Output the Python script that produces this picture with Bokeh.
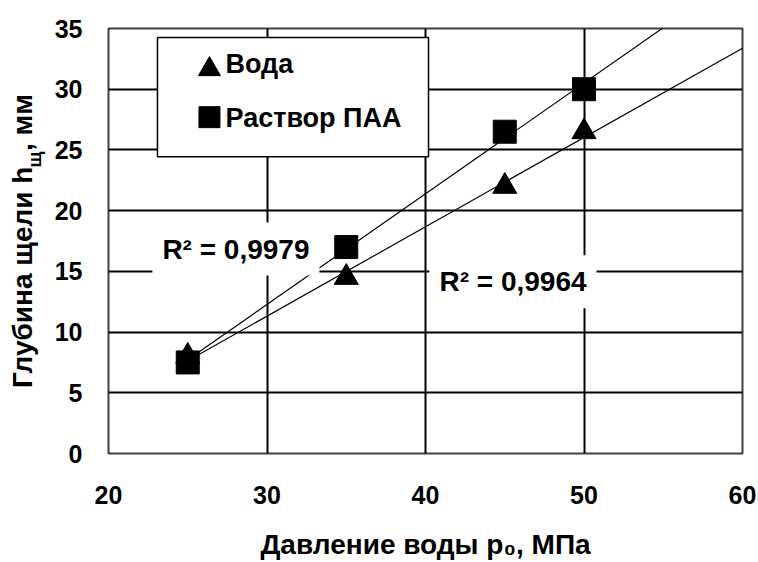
import math
import numpy as np
from bokeh.plotting import figure
from bokeh.models import Range1d, FixedTicker, Label
from bokeh.embed import file_html
from bokeh.resources import INLINE

# ---- data ----
pressure = [25, 35, 45, 50]                 # p0, MPa
depth_water = [8.0, 14.5, 22.0, 26.5]        # Вода
depth_paa = [7.5, 17.0, 26.5, 30.0]          # Раствор ПАА
series_names = ["Вода", "Раствор ПАА"]
r2_labels = ["R² = 0,9979", "R² = 0,9964"]
x_ticks = [20, 30, 40, 50, 60]
y_ticks = [0, 5, 10, 15, 20, 25, 30, 35]
x_title = "Давление воды p₀, МПа"
y_title_main = "Глубина щели h\u00a0\u00a0, мм"   # gap is filled by the subscript
y_title_sub = "щ"
forecast_forward = 10

FONT = "Liberation Sans"

p = figure(width=758, height=562,
           x_range=Range1d(x_ticks[0], x_ticks[-1]),
           y_range=Range1d(y_ticks[0], y_ticks[-1]),
           output_backend="svg", toolbar_location=None,
           min_border_left=108, min_border_right=16,
           min_border_top=28, min_border_bottom=107)
p.background_fill_color = "white"
p.border_fill_color = "white"
p.outline_line_color = "#404040"
p.outline_line_width = 2

p.xaxis.ticker = FixedTicker(ticks=x_ticks)
p.yaxis.ticker = FixedTicker(ticks=y_ticks)
for ax in (p.xaxis, p.yaxis):
    ax.axis_line_color = None
    ax.major_tick_line_color = None
    ax.minor_tick_line_color = None
    ax.major_label_text_font = FONT
    ax.major_label_text_font_style = "bold"
    ax.major_label_text_font_size = "25px"
    ax.major_label_text_color = "black"
    ax.axis_label_text_font = FONT
    ax.axis_label_text_font_style = "bold"
    ax.axis_label_text_font_size = "28px"
    ax.axis_label_text_color = "black"
p.xaxis.major_label_standoff = 26
p.yaxis.major_label_standoff = 20
p.xaxis.axis_label = x_title
p.xaxis.axis_label_standoff = 22
p.yaxis.axis_label = y_title_main
p.yaxis.axis_label_standoff = 14

p.xgrid.ticker = FixedTicker(ticks=x_ticks[1:-1])
p.ygrid.ticker = FixedTicker(ticks=y_ticks[1:-1])
for g in (p.xgrid, p.ygrid):
    g.grid_line_color = "black"
    g.grid_line_width = 2

# ---- linear trendlines (Excel-like, forecast forward) ----
for ys in (depth_water, depth_paa):
    k, b = np.polyfit(pressure, ys, 1)
    xs = [pressure[0], pressure[-1] + forecast_forward]
    p.line(xs, [k * x + b for x in xs], line_color="black", line_width=1.2)

p.scatter(pressure, depth_water, marker="triangle", size=24,
          fill_color="black", line_color="black")
p.scatter(pressure, depth_paa, marker="square", size=23,
          fill_color="black", line_color="black")

# ---- legend (drawn box) ----
p.quad(left=[23.09], right=[40.19], top=[34.26], bottom=[24.43],
       fill_color="white", line_color="black", line_width=1.5)
p.scatter([26.37], [31.64], marker="triangle", size=22,
          fill_color="black", line_color="black")
p.scatter([26.37], [27.70], marker="square", size=21,
          fill_color="black", line_color="black")
for txt, yy in zip(series_names, [32.05, 27.66]):
    p.add_layout(Label(x=27.38, y=yy, text=txt, text_align="left",
                       text_baseline="middle", text_font=FONT,
                       text_font_style="bold", text_font_size="27px",
                       text_color="black"))

# ---- R² labels ----
for txt, (xx, yy) in zip(r2_labels, [(28.04, 16.84), (45.52, 14.14)]):
    p.add_layout(Label(x=xx, y=yy, text=txt, text_align="center",
                       text_baseline="middle", text_font=FONT,
                       text_font_style="bold", text_font_size="28px",
                       text_color="black", background_fill_color="white",
                       padding=dict(left=10, right=10, top=11, bottom=11)))

# ---- subscript of the y axis title ----
p.add_layout(Label(x=15.3, y=24.22, text=y_title_sub, angle=math.pi / 2,
                   text_align="center", text_baseline="middle",
                   text_font=FONT, text_font_style="bold",
                   text_font_size="19px", text_color="black"), "above")

open("out.html", "w").write(file_html(p, INLINE))
